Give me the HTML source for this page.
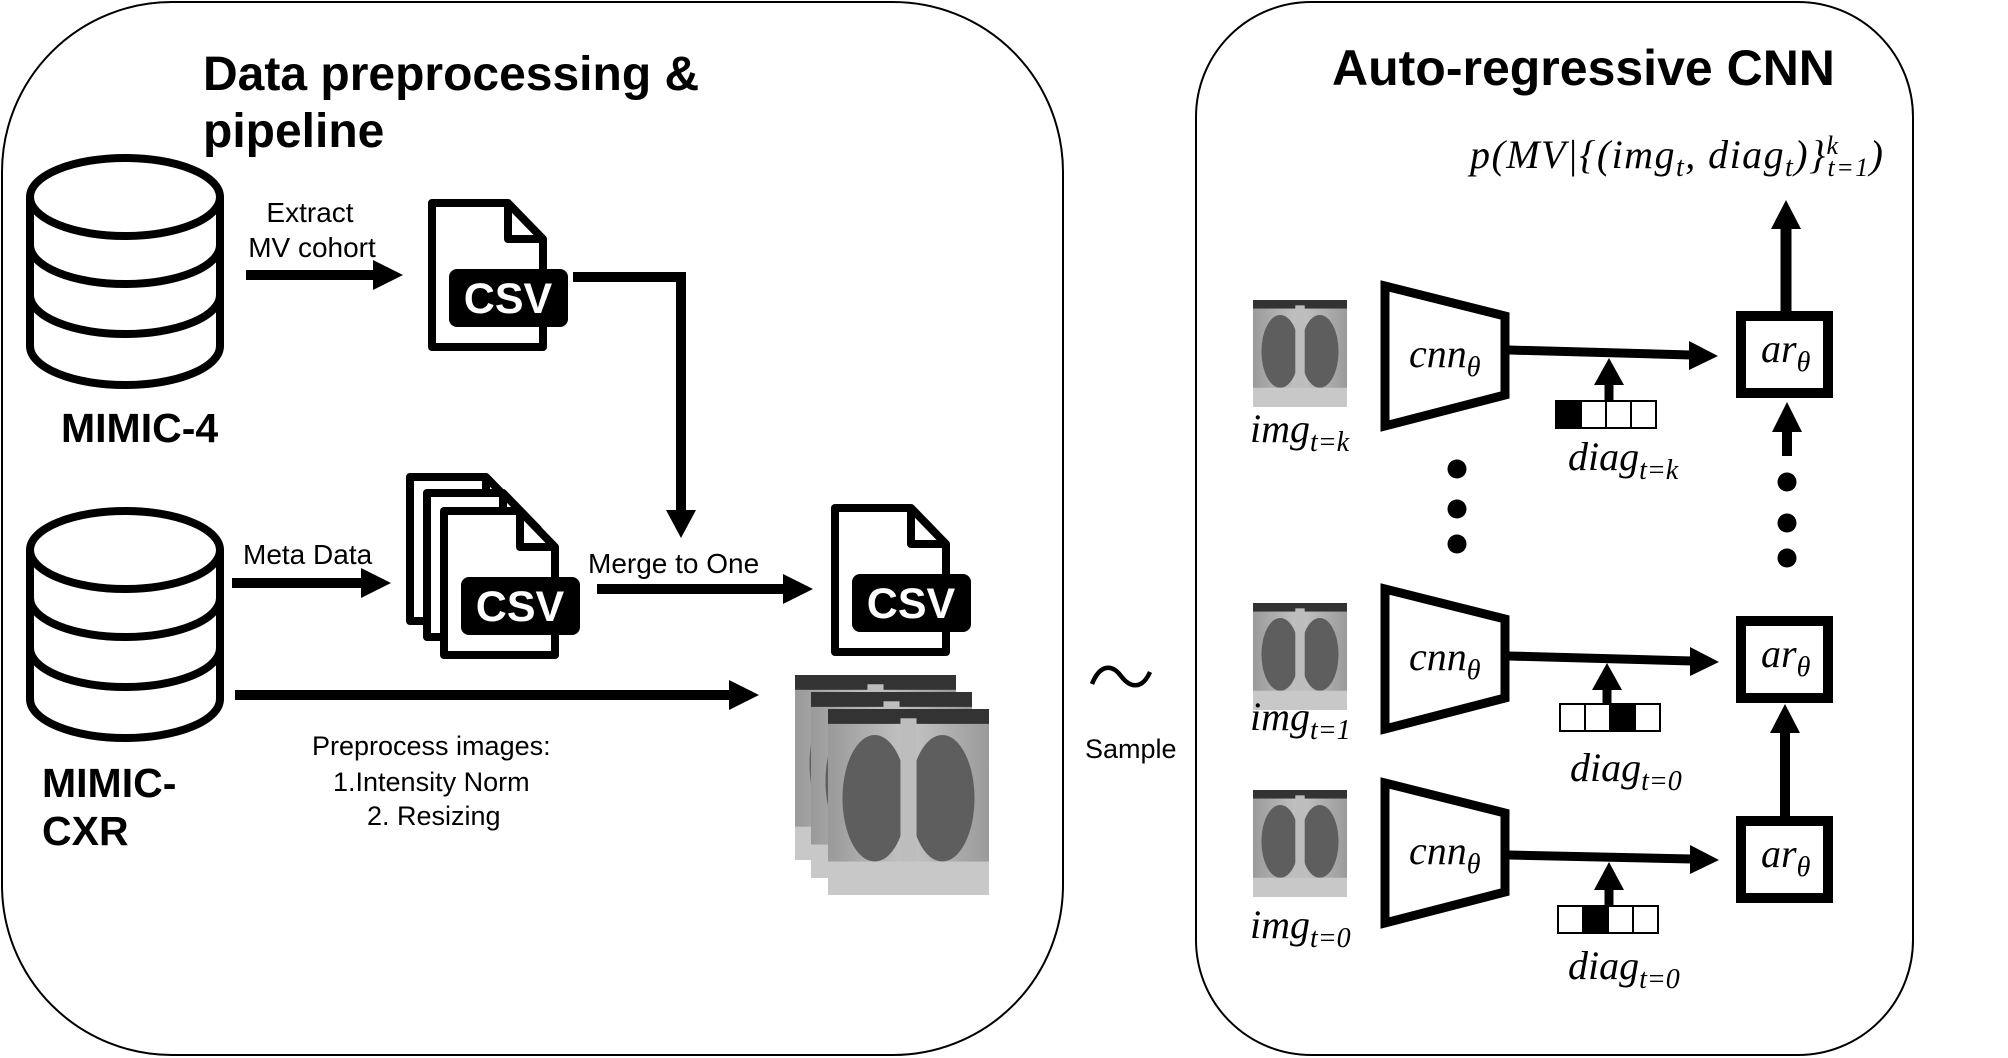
<!DOCTYPE html>
<html><head><meta charset="utf-8"><style>
html,body{margin:0;padding:0;background:#fff;}
svg{display:block;}
text{font-family:"Liberation Sans",sans-serif;}
.m{font-family:"Liberation Serif",serif;font-style:italic;}
</style></head><body>
<svg width="2008" height="1058" viewBox="0 0 2008 1058">
<defs>
<linearGradient id="xg" x1="0" y1="0" x2="1" y2="0"><stop offset="0" stop-color="#9a9a9a"/><stop offset="0.5" stop-color="#c4c4c4"/><stop offset="1" stop-color="#9a9a9a"/></linearGradient>
<symbol id="xray" viewBox="0 0 100 100" preserveAspectRatio="none">
<rect x="0" y="0" width="100" height="100" fill="url(#xg)"/>
<rect x="0" y="0" width="100" height="8" fill="#333"/>
<ellipse cx="29" cy="48" rx="20" ry="34" fill="#5e5e5e"/>
<ellipse cx="71" cy="48" rx="20" ry="34" fill="#5e5e5e"/>
<rect x="45" y="5" width="10" height="95" fill="#bdbdbd"/>
<rect x="0" y="82" width="100" height="18" fill="#c8c8c8"/>
</symbol>
<g id="fileo"><path d="M4,4 H80 L115,40 V148 H4 Z" fill="#fff" stroke="#000" stroke-width="8" stroke-linejoin="round"/><path d="M80,4 V40 H115" fill="none" stroke="#000" stroke-width="8" stroke-linejoin="round"/></g>
<g id="csvfile"><use href="#fileo"/><rect x="21" y="70" width="119" height="58" rx="8" fill="#000"/><text x="80" y="114" font-size="43" font-weight="bold" fill="#fff" text-anchor="middle">CSV</text></g>
<g id="cyl" fill="none" stroke="#000" stroke-width="8"><ellipse cx="125" cy="40" rx="95" ry="39"/><path d="M30,40 V189 A95,39 0 0 0 220,189 V40"/><path d="M30,88 A95,39 0 0 0 220,88"/><path d="M30,138 A95,39 0 0 0 220,138"/></g>
</defs>

<rect x="2" y="2" width="1061" height="1053" rx="170" fill="none" stroke="#000" stroke-width="2"/>
<rect x="1196" y="2" width="717" height="1053" rx="115" fill="none" stroke="#000" stroke-width="2"/>

<text x="203" y="90" font-size="48" font-weight="bold">Data preprocessing &amp;</text>
<text x="203" y="147" font-size="48" font-weight="bold">pipeline</text>

<use href="#cyl" x="0" y="157"/>
<text x="61" y="442" font-size="41" font-weight="bold">MIMIC-4</text>
<use href="#cyl" x="0" y="510"/>
<text x="42" y="797" font-size="41" font-weight="bold">MIMIC-</text>
<text x="42" y="845" font-size="41" font-weight="bold">CXR</text>

<text x="310" y="222" font-size="28" text-anchor="middle">Extract</text>
<text x="312" y="257" font-size="28" text-anchor="middle">MV cohort</text>
<g><line x1="246" y1="275" x2="375" y2="275" stroke="#000" stroke-width="10"/><polygon points="373,260 403,275 373,290"/></g>
<use href="#csvfile" x="428" y="199"/>
<g><polyline points="573,277 681,277 681,512" fill="none" stroke="#000" stroke-width="10"/><polygon points="666,510 681,538 696,510"/></g>

<text x="243" y="564" font-size="28">Meta Data</text>
<g><line x1="232" y1="583" x2="363" y2="583" stroke="#000" stroke-width="10"/><polygon points="361,568 391,583 361,598"/></g>
<g>
<use href="#fileo" x="406" y="473"/>
<use href="#fileo" x="423" y="489"/>
<use href="#csvfile" x="440" y="507"/>
</g>
<text x="588" y="573" font-size="28">Merge to One</text>
<g><line x1="597" y1="589" x2="785" y2="589" stroke="#000" stroke-width="10"/><polygon points="783,574 813,589 783,604"/></g>
<use href="#csvfile" x="831" y="504"/>
<g><line x1="235" y1="695" x2="731" y2="695" stroke="#000" stroke-width="10"/><polygon points="729,680 759,695 729,710"/></g>
<g>
<use href="#xray" x="795" y="675" width="161" height="185"/>
<use href="#xray" x="811" y="692" width="161" height="186"/>
<use href="#xray" x="828" y="709" width="161" height="186"/>
</g>
<text x="312" y="755" font-size="27">Preprocess images:</text>
<text x="333" y="791" font-size="27">1.Intensity Norm</text>
<text x="367" y="825" font-size="27">2. Resizing</text>

<path d="M1092,684 C1100,664 1112,664 1121,676 C1130,688 1142,690 1150,672" fill="none" stroke="#000" stroke-width="4.5"/>
<text x="1085" y="758" font-size="27">Sample</text>

<text x="1332" y="85" font-size="50" font-weight="bold">Auto-regressive CNN</text>
<text x="1470" y="168" font-size="40" class="m" textLength="413" lengthAdjust="spacing">p(MV|{(img<tspan font-size="28" dy="8">t</tspan><tspan dy="-8">, diag</tspan><tspan font-size="28" dy="8">t</tspan><tspan dy="-8">)}</tspan><tspan font-size="26" dy="-14">k</tspan><tspan font-size="26" dx="-12" dy="22">t=1</tspan><tspan dy="-8">)</tspan></text>
<g><line x1="1786" y1="312" x2="1786" y2="227" stroke="#000" stroke-width="11"/><polygon points="1771,229 1786,200 1801,229"/></g>

<g>
<use href="#xray" x="1253" y="300" width="94" height="107"/>
<text x="1250" y="442" font-size="40" class="m">img<tspan font-size="28" dy="9">t=k</tspan></text>
<path d="M1385,286 L1505,316 V395 L1385,426 Z" fill="#fff" stroke="#000" stroke-width="9"/>
<text x="1409" y="367" font-size="40" class="m">cnn<tspan font-size="28" dy="9">θ</tspan></text>
<line x1="1509" y1="350" x2="1691" y2="355" stroke="#000" stroke-width="9"/><polygon points="1689,341 1718,356 1689,370"/>
<line x1="1609" y1="401" x2="1609" y2="383" stroke="#000" stroke-width="9"/><polygon points="1594,385 1609,358 1624,385"/>
<rect x="1556" y="401" width="25" height="27" fill="#000" stroke="#000" stroke-width="2"/><rect x="1581" y="401" width="25" height="27" fill="#fff" stroke="#000" stroke-width="2"/><rect x="1606" y="401" width="25" height="27" fill="#fff" stroke="#000" stroke-width="2"/><rect x="1631" y="401" width="25" height="27" fill="#fff" stroke="#000" stroke-width="2"/>
<text x="1568" y="470" font-size="40" class="m">diag<tspan font-size="28" dy="9">t=k</tspan></text>
<rect x="1741" y="316" width="87" height="77" fill="#fff" stroke="#000" stroke-width="10"/>
<text x="1761" y="362" font-size="40" class="m">ar<tspan font-size="28" dy="9">θ</tspan></text>
</g>
<g>
<use href="#xray" x="1253" y="603" width="94" height="107"/>
<text x="1250" y="730" font-size="40" class="m">img<tspan font-size="28" dy="9">t=1</tspan></text>
<path d="M1385,589 L1505,619 V698 L1385,729 Z" fill="#fff" stroke="#000" stroke-width="9"/>
<text x="1409" y="670" font-size="40" class="m">cnn<tspan font-size="28" dy="9">θ</tspan></text>
<line x1="1509" y1="656" x2="1692" y2="661" stroke="#000" stroke-width="9"/><polygon points="1690,647 1719,662 1690,676"/>
<line x1="1607" y1="704" x2="1607" y2="688" stroke="#000" stroke-width="9"/><polygon points="1592,690 1607,663 1622,690"/>
<rect x="1560" y="704" width="25" height="27" fill="#fff" stroke="#000" stroke-width="2"/><rect x="1585" y="704" width="25" height="27" fill="#fff" stroke="#000" stroke-width="2"/><rect x="1610" y="704" width="25" height="27" fill="#000" stroke="#000" stroke-width="2"/><rect x="1635" y="704" width="25" height="27" fill="#fff" stroke="#000" stroke-width="2"/>
<text x="1570" y="781" font-size="40" class="m">diag<tspan font-size="28" dy="9">t=0</tspan></text>
<rect x="1741" y="621" width="87" height="77" fill="#fff" stroke="#000" stroke-width="10"/>
<text x="1761" y="667" font-size="40" class="m">ar<tspan font-size="28" dy="9">θ</tspan></text>
</g>
<g>
<use href="#xray" x="1253" y="790" width="94" height="107"/>
<text x="1250" y="938" font-size="40" class="m">img<tspan font-size="28" dy="9">t=0</tspan></text>
<path d="M1385,783 L1505,813 V892 L1385,923 Z" fill="#fff" stroke="#000" stroke-width="9"/>
<text x="1409" y="864" font-size="40" class="m">cnn<tspan font-size="28" dy="9">θ</tspan></text>
<line x1="1509" y1="855" x2="1692" y2="859" stroke="#000" stroke-width="9"/><polygon points="1690,845 1719,860 1690,874"/>
<line x1="1609" y1="906" x2="1609" y2="888" stroke="#000" stroke-width="9"/><polygon points="1594,890 1609,862 1624,890"/>
<rect x="1558" y="906" width="25" height="27" fill="#fff" stroke="#000" stroke-width="2"/><rect x="1583" y="906" width="25" height="27" fill="#000" stroke="#000" stroke-width="2"/><rect x="1608" y="906" width="25" height="27" fill="#fff" stroke="#000" stroke-width="2"/><rect x="1633" y="906" width="25" height="27" fill="#fff" stroke="#000" stroke-width="2"/>
<text x="1568" y="979" font-size="40" class="m">diag<tspan font-size="28" dy="9">t=0</tspan></text>
<rect x="1741" y="821" width="87" height="77" fill="#fff" stroke="#000" stroke-width="10"/>
<text x="1761" y="867" font-size="40" class="m">ar<tspan font-size="28" dy="9">θ</tspan></text>
</g>
<g><line x1="1785" y1="816" x2="1785" y2="731" stroke="#000" stroke-width="10"/><polygon points="1770,733 1785,704 1800,733"/></g>
<g><line x1="1787" y1="456" x2="1787" y2="430" stroke="#000" stroke-width="10"/><polygon points="1772,432 1787,402 1802,432"/></g>
<g fill="#000">
<circle cx="1457" cy="469" r="9.5"/><circle cx="1457" cy="509" r="9.5"/><circle cx="1457" cy="544" r="9.5"/>
<circle cx="1787" cy="482" r="9.5"/><circle cx="1787" cy="523" r="9.5"/><circle cx="1787" cy="558" r="9.5"/>
</g>
</svg>
</body></html>
